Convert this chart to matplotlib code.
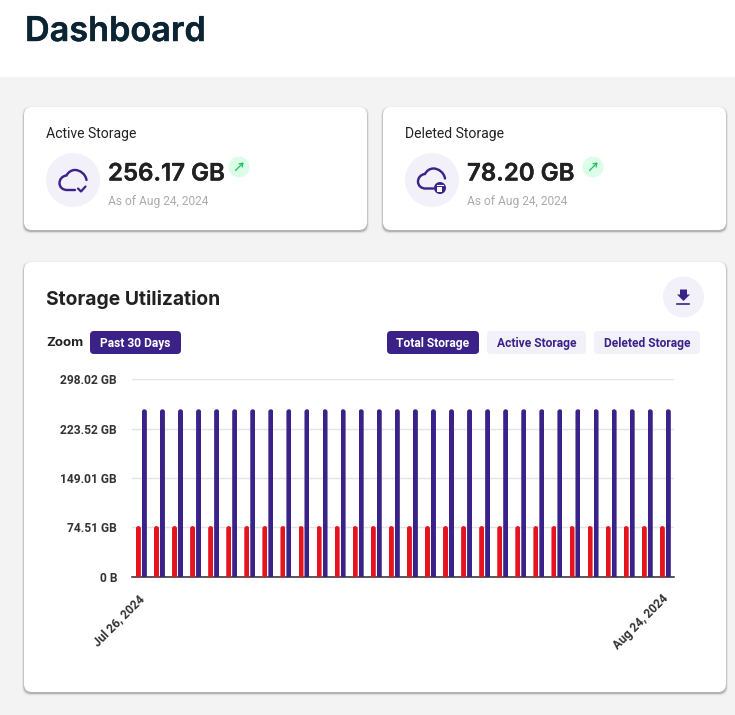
import matplotlib
matplotlib.use("Agg")
import matplotlib.pyplot as plt
import matplotlib.patheffects as pe
from matplotlib.patches import Circle, FancyBboxPatch, PathPatch, Polygon
from matplotlib.path import Path
from matplotlib.transforms import ScaledTranslation

# date range on the x axis, one bar pair per day
days = ["Jul 26, 2024", "Jul 27, 2024", "Jul 28, 2024", "Jul 29, 2024", "Jul 30, 2024", "Jul 31, 2024",
        "Aug 1, 2024", "Aug 2, 2024", "Aug 3, 2024", "Aug 4, 2024", "Aug 5, 2024", "Aug 6, 2024",
        "Aug 7, 2024", "Aug 8, 2024", "Aug 9, 2024", "Aug 10, 2024", "Aug 11, 2024", "Aug 12, 2024",
        "Aug 13, 2024", "Aug 14, 2024", "Aug 15, 2024", "Aug 16, 2024", "Aug 17, 2024", "Aug 18, 2024",
        "Aug 19, 2024", "Aug 20, 2024", "Aug 21, 2024", "Aug 22, 2024", "Aug 23, 2024", "Aug 24, 2024"]
active_storage = [252.7, 252.7, 252.7, 252.7, 252.7, 252.7, 252.7, 252.7, 252.7, 252.7,
                  252.7, 252.7, 252.7, 252.7, 252.7, 252.7, 252.7, 252.7, 252.7, 252.7,
                  252.7, 252.7, 252.7, 252.7, 252.7, 252.7, 252.7, 252.7, 252.7, 252.7]
deleted_storage = [76.2, 76.2, 76.2, 76.2, 76.2, 76.2, 76.2, 76.2, 76.2, 76.2,
                   76.2, 76.2, 76.2, 76.2, 76.2, 76.2, 76.2, 76.2, 76.2, 76.2,
                   76.2, 76.2, 76.2, 76.2, 76.2, 76.2, 76.2, 76.2, 76.2, 76.2]
y_ticks = [0, 74.51, 149.01, 223.52, 298.02]
y_labels = ["0 B", "74.51 GB", "149.01 GB", "223.52 GB", "298.02 GB"]
x_labels = ["Jul 26, 2024", "Aug 24, 2024"]

PURPLE = "#3a2289"
LIGHT = "#f2f1f9"
RED = "#e5141f"
HEAD = "Inter"
BODY = "Roboto"
W, H = 735, 715


def px(size):
    return size * 0.72


fig = plt.figure(figsize=(W / 100, H / 100), dpi=100, facecolor="white")

# page layer, laid out in screen pixels
bg = fig.add_axes([0, 0, 1, 1])
bg.set_xlim(0, W)
bg.set_ylim(H, 0)
bg.axis("off")


def box(x0, y0, x1, y1, r, color, **kw):
    p = FancyBboxPatch((x0, y0), x1 - x0, y1 - y0, boxstyle=f"round,pad=0,rounding_size={r}",
                       fc=color, ec="none", **kw)
    bg.add_patch(p)


def card(x0, y0, x1, y1):
    for grow, alpha in [(2.0, 0.04), (1.2, 0.08), (0.5, 0.16)]:
        box(x0 - grow, y0 + 1.5 - grow, x1 + grow, y1 + 1.5 + grow, 8, "black", alpha=alpha)
    box(x0, y0, x1, y1, 8, "white")


def head_text(x, y, s, size, color, weight="semibold", stroke=0.3):
    t = bg.text(x, y, s, fontsize=px(size), family=HEAD, weight=weight, color=color, va="center")
    if stroke:
        t.set_path_effects([pe.withStroke(linewidth=stroke, foreground=color)])
    return t


def cloud(dx, dy, lw=2.4):
    verts = [(86.5, 180), (85.5, 174), (80, 170), (75, 170), (71, 170), (68, 172.5), (66.5, 175.5),
             (62, 176), (59.5, 179.5), (59.5, 183), (59.5, 187.5), (63, 190), (67, 190), (75, 190)]
    codes = [Path.MOVETO] + [Path.CURVE4] * 12 + [Path.LINETO]
    path = Path([(x + dx, y + dy) for x, y in verts], codes)
    bg.add_patch(PathPatch(path, fc="none", ec=PURPLE, lw=lw * 0.72, capstyle="round"))


def trend(cx, cy):
    bg.add_patch(Circle((cx, cy), 10.5, fc="#dcfde8", ec="none"))
    bg.annotate("", xy=(cx + 4.5, cy - 4.5), xytext=(cx - 3.5, cy + 3.5),
                arrowprops=dict(arrowstyle="->,head_length=0.22,head_width=0.16", color="#19c25a", lw=0.9,
                                shrinkA=0, shrinkB=0))


bg.add_patch(plt.Rectangle((0, 77), W, H - 77, fc="#f3f3f3", ec="none"))
head_text(25, 32, "Dashboard", 34.2, "#0b2434")

card(24, 107, 367, 230)
card(383, 107, 726, 230)
card(24, 262, 726, 692)

# stat cards
bg.text(46, 134, "Active Storage", fontsize=px(14), family=BODY, color="#222222", va="center")
bg.add_patch(Circle((73, 180), 27, fc=LIGHT, ec="none"))
cloud(0, 0)
bg.plot([78, 81, 85.5], [188.5, 191.5, 186.5], color=PURPLE, lw=1.6, solid_capstyle="round")
head_text(108, 174.5, "256.17 GB", 24, "#212121")
trend(239, 167)
bg.text(108, 201, "As of Aug 24, 2024", fontsize=px(12), family=BODY, color="#ababab", va="center")

bg.text(405, 134, "Deleted Storage", fontsize=px(14), family=BODY, color="#222222", va="center")
bg.add_patch(Circle((432, 180), 27, fc=LIGHT, ec="none"))
cloud(358.5, -1.5)
bg.add_patch(Circle((440, 188), 6, fc=PURPLE, ec="none"))
bg.add_patch(plt.Rectangle((437.5, 186.5), 5, 5, fc="white", ec="none"))
bg.plot([437, 443], [185, 185], color="white", lw=0.8)
head_text(467, 174.5, "78.20 GB", 24, "#212121")
trend(593, 167)
bg.text(467, 201, "As of Aug 24, 2024", fontsize=px(12), family=BODY, color="#ababab", va="center")

# chart header
head_text(46, 299.5, "Storage Utilization", 19.3, "#212121", weight="bold", stroke=0)
bg.add_patch(Circle((683.5, 297), 20.5, fc=LIGHT, ec="none"))
bg.add_patch(Polygon([(680, 289.5), (687, 289.5), (687, 294.5), (690, 294.5), (683.5, 301), (677, 294.5), (680, 294.5)],
                     fc=PURPLE, ec="none"))
bg.plot([677.5, 689.5], [303.5, 303.5], color=PURPLE, lw=1.2)
head_text(46, 343.5, "Zoom", 13.2, "#212121", weight="bold", stroke=0)

buttons = [(90, 181, "Past 30 Days", PURPLE, "white"), (387, 479, "Total Storage", PURPLE, "white"),
           (487, 586, "Active Storage", LIGHT, PURPLE), (594, 700, "Deleted Storage", LIGHT, PURPLE)]
for x0, x1, label, fc, tc in buttons:
    box(x0, 331, x1, 354, 4, fc)
    bg.text((x0 + x1) / 2, 343.6, label, fontsize=px(12), family=BODY, weight="bold", color=tc,
            ha="center", va="center")

# the chart itself
ax = fig.add_axes([132 / W, 1 - 576.5 / H, (674 - 132) / W, (576.5 - 379.3) / H])
ax.patch.set_alpha(0)
ax.set_xlim(-0.5, len(days) - 0.5)
ax.set_ylim(0, 298.02)
xs = list(range(len(days)))
bar_w = 0.277
red_bars = ax.bar([x - 0.145 for x in xs], deleted_storage, bar_w, color=RED, zorder=3)
blue_bars = ax.bar([x + 0.185 for x in xs], active_storage, bar_w, color=PURPLE, zorder=3)

# round the bar tops
aspect = (298.02 / 197.2) / (30 / 542)
for b in list(red_bars) + list(blue_bars):
    clip = FancyBboxPatch((b.get_x(), -10), b.get_width(), b.get_height() + 10,
                          boxstyle=f"round,pad=0,rounding_size={bar_w / 2}", mutation_aspect=aspect,
                          transform=ax.transData)
    b.set_clip_path(clip)

ax.set_yticks(y_ticks)
ax.set_yticklabels(y_labels, fontsize=px(12), family=BODY, weight="bold", color="#333333")
ax.set_xticks([0, len(days) - 1])
ax.set_xticklabels(x_labels, fontsize=px(12), family=BODY, weight="semibold", color="#333333",
                   rotation=45, ha="right", rotation_mode="anchor")
ax.tick_params(axis="y", length=0, pad=px(15))
ax.tick_params(axis="x", length=0, pad=px(15.5))
shift = ScaledTranslation(-3.5 / 100, 0, fig.dpi_scale_trans)
for lab in ax.get_xticklabels():
    lab.set_transform(lab.get_transform() + shift)
ax.grid(axis="y", color="#e4e4e4", lw=1, zorder=0)
ax.set_axisbelow(True)
for side in ["top", "right", "left"]:
    ax.spines[side].set_visible(False)
ax.spines["bottom"].set_color("#2b2b2b")
ax.spines["bottom"].set_linewidth(1.1)

fig.savefig("out.png", dpi=100)
